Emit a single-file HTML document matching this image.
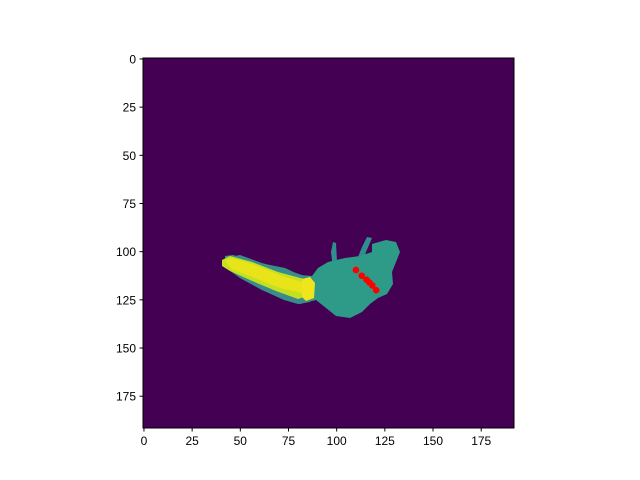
<!DOCTYPE html>
<html><head><meta charset="utf-8"><style>
body{margin:0;background:#fff}
svg{display:block;font-family:"Liberation Sans","DejaVu Sans",sans-serif}
</style></head><body>
<svg id="c" width="640" height="480">
<rect x="143" y="58" width="371" height="370" fill="#440154"/>
<g>
<path d="M333,268 L331,252 L333,242 L336,243 L337,262 Z" fill="#2f8f8c"/>
<path d="M356,262 L362,247 L367,237 L372,238 L366,252 L362,264 Z" fill="#2f8f8c"/>
<path d="M225,256 L233,255 L255,262 L285,268 L300,275 L312,276 L318,268 L328,262 L345,258 L360,256 L372,252 L372,244 L386,240 L396,242 L400,252 L396,262 L392,272 L393,284 L387,294 L378,298 L370,304 L362,312 L350,318 L336,316 L326,308 L316,300 L300,304 L286,300 L262,290 L240,278 L226,268 Z" fill="#2e9a88"/>
<path d="M230,257 L240,255 L262,263 L290,271 L305,276 L312,278 L314,294 L310,302 L298,304 L284,300 L262,290 L240,278 L230,268 Z" fill="#3a8b8c"/>
<path d="M222,260 L230,256 L252,262 L278,272 L304,279 L307,296 L298,299 L276,291 L250,280 L230,271 L222,266 Z" fill="#c5e021"/>
<path d="M225,261 L232,258 L255,265 L282,276 L302,282 L302,293 L280,288 L255,278 L232,269 Z" fill="#e8e419"/>
<path d="M302,279 L310,277 L315,283 L314,298 L306,301 L302,297 Z" fill="#f0e51c"/>
</g>
<g id="dots"></g>
<g id="axes" font-size="12" fill="#000"></g>
<rect x="143" y="58" width="371" height="370" fill="none" stroke="#000" stroke-width="1"/>
</svg>
<script>
const ptX=[110,113,115.5,117,118.5,120.5];
const ptY=[109.5,112.5,114.5,116,117.5,120];
const xTicks=[0,25,50,75,100,125,150,175];
const yTicks=[0,25,50,75,100,125,150,175];
const L=143,T=58,S=370/192;
const sx=v=>L+(v+0.5)*S, sy=v=>T+(v+0.5)*S;
const NS="http://www.w3.org/2000/svg";
const dots=document.getElementById('dots'), ax=document.getElementById('axes');
ptX.forEach((x,i)=>{const c=document.createElementNS(NS,'circle');
c.setAttribute('cx',sx(x));c.setAttribute('cy',sy(ptY[i]));c.setAttribute('r',3.3);c.setAttribute('fill','#ff0000');


dots.appendChild(c);});
xTicks.forEach(v=>{const x=sx(v);
const l=document.createElementNS(NS,'line');l.setAttribute('x1',x);l.setAttribute('x2',x);l.setAttribute('y1',428);l.setAttribute('y2',431.5);l.setAttribute('stroke','#000');


ax.appendChild(l);
const t=document.createElementNS(NS,'text');t.setAttribute('x',x);t.setAttribute('y',445);t.setAttribute('text-anchor','middle');t.textContent=v;


ax.appendChild(t);});
yTicks.forEach(v=>{const y=sy(v);
const l=document.createElementNS(NS,'line');l.setAttribute('x1',139.5);l.setAttribute('x2',143);l.setAttribute('y1',y);l.setAttribute('y2',y);l.setAttribute('stroke','#000');


ax.appendChild(l);
const t=document.createElementNS(NS,'text');t.setAttribute('x',136);t.setAttribute('y',y+4.5);t.setAttribute('text-anchor','end');t.textContent=v;


ax.appendChild(t);});
</script>
</body></html>
